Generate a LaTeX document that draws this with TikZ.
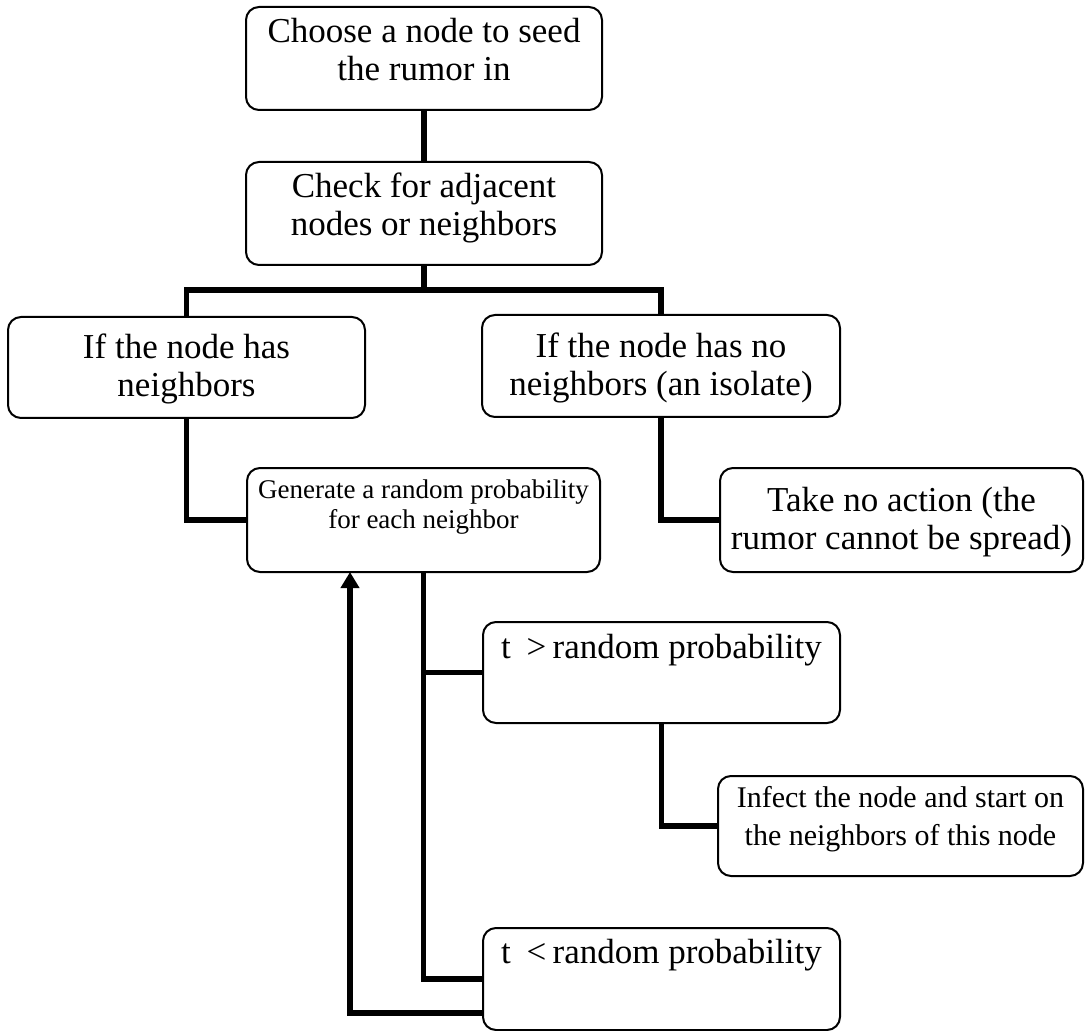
\documentclass[tikz,border=0pt]{standalone}
\usepackage{fontspec}
\setmainfont{Liberation Serif}
\usetikzlibrary{arrows.meta}
\newcommand{\twol}[2]{\begin{tabular}[t]{@{}c@{}}#1\\#2\end{tabular}}
\begin{document}
\begin{tikzpicture}[x=0.5pt,y=-0.5pt,
  box/.style={draw, line width=1pt, rounded corners=6.5pt, inner sep=0pt, outer sep=0pt},
  bigtxt/.style={font=\fontsize{17.5pt}{19pt}\selectfont, inner sep=0pt, anchor=base},
  smalltxt/.style={font=\fontsize{13.5pt}{15pt}\selectfont, inner sep=0pt, anchor=base},
  midtxt/.style={font=\fontsize{15pt}{19pt}\selectfont, inner sep=0pt, anchor=base},
  conn/.style={line width=2.75pt, line join=miter},
  arr/.style={conn, -{Triangle[width=9pt,length=8pt]}}]
\useasboundingbox (0,0) rectangle (1085,1031);

% boxes
\node[box, minimum width=178pt, minimum height=51.5pt] (b1) at (424,58.5) {};
\node[box, minimum width=178pt, minimum height=51.5pt] (b2) at (424,213.5) {};
\node[box, minimum width=178.5pt, minimum height=50.5pt] (b3) at (186.5,367.5) {};
\node[box, minimum width=179pt, minimum height=51pt] (b4) at (661,366) {};
\node[box, minimum width=176.5pt, minimum height=52pt] (b5) at (423.5,520) {};
\node[box, minimum width=181.5pt, minimum height=52pt] (b6) at (901.5,520) {};
\node[box, minimum width=178.5pt, minimum height=50.5pt] (b7) at (661.5,672.5) {};
\node[box, minimum width=182.5pt, minimum height=50pt] (b8) at (900.5,826) {};
\node[box, minimum width=178.5pt, minimum height=51pt] (b9) at (661.5,979) {};

% texts
\node[bigtxt] (t1) at (424,43) {\twol{Choose a node to seed}{the rumor in}};
\node[bigtxt] (t2) at (424,198) {\twol{Check for adjacent}{nodes or neighbors}};
\node[bigtxt] (t3) at (186.5,359) {\twol{If the node has}{neighbors}};
\node[bigtxt] (t4) at (661,358) {\twol{If the node has no}{neighbors (an isolate)}};
\node[smalltxt] (t5) at (423.5,498) {\twol{Generate a random probability}{for each neighbor}};
\node[bigtxt] (t6) at (901.5,511) {\twol{Take no action (the}{rumor cannot be spread)}};
\node[bigtxt] (t7) at (661.5,658) {t\hspace{0.45em}>\hspace{0.18em}random probability};
\node[midtxt] (t8) at (900.5,807) {\twol{Infect the node and start on}{the neighbors of this node}};
\node[bigtxt] (t9) at (661.5,963) {t\hspace{0.45em}<\hspace{0.18em}random probability};

% connectors
\coordinate (hy) at (0,290);
\coordinate (ar) at (350,1013);
\draw[conn] (b1.south) -- (b2.north);
\draw[conn] (b2.south) -- (b2.south |- hy);
\draw[conn] (b3.north) -- (b3.north |- hy) -- (b4.north |- hy) -- (b4.north);
\draw[conn] (b3.south) |- (b5.west);
\draw[conn] (b4.south) |- (b6.west);
\draw[conn] (b5.south) |- (b7.west);
\draw[conn] (b5.south) |- (b9.west);
\draw[conn] (b7.south) |- (b8.west);
\draw[arr] (b9.west |- ar) -- (ar) -- (ar |- b5.south);
\end{tikzpicture}
\end{document}
